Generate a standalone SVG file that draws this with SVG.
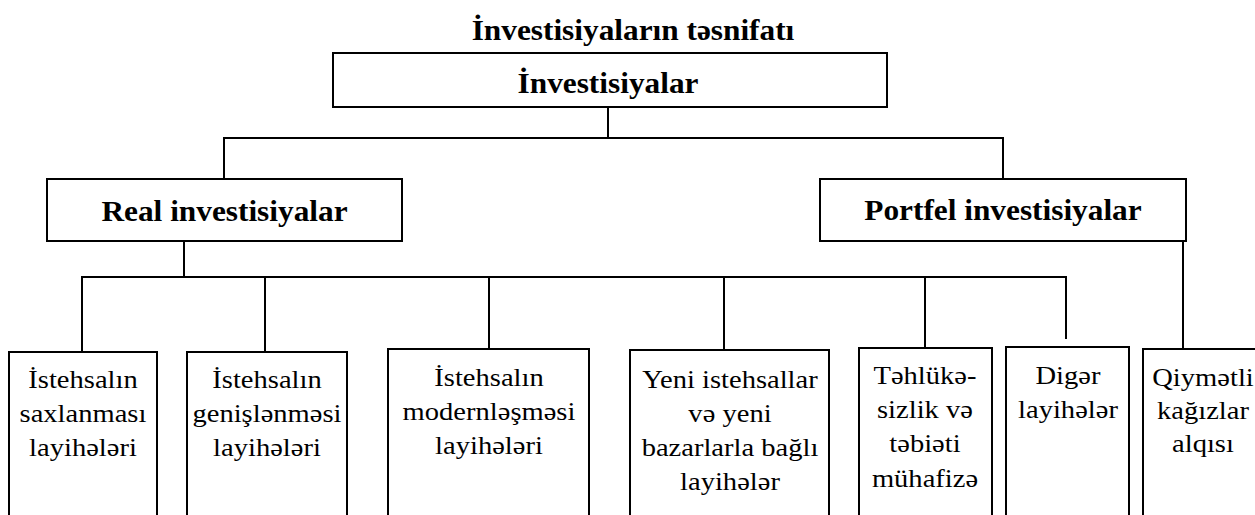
<svg xmlns="http://www.w3.org/2000/svg" width="1255" height="515" viewBox="0 0 1255 515">
<style>
text{font-family:"Liberation Serif","Times New Roman",serif;fill:#000;text-anchor:middle}
.b{font-weight:bold;font-size:29px}
.r{font-size:25.5px}
.box{fill:#fff;stroke:#000;stroke-width:2}
.ln{fill:none;stroke:#000;stroke-width:2}
</style>
<rect width="1255" height="515" fill="#fff"/>
<text class="b" x="633" y="40" transform="matrix(1.08 0 0 1 -50.64 0)">İnvestisiyaların təsnifatı</text>
<g id="connectors">
<path class="ln" d="M608 107V138M224 179V138H1003V179"/>
<path class="ln" d="M184 241V277M82 352V277H1066V339M265 277V352M489 277V349M724 277V350M925 277V348"/>
<path class="ln" d="M1183 241V349"/>
</g>
<g id="n-top"><rect class="box" x="333" y="53" width="554" height="54"/><text class="b" x="608" y="93" transform="matrix(1.08 0 0 1 -48.64 0)">İnvestisiyalar</text></g>
<g id="n-real"><rect class="box" x="47" y="179" width="355" height="62"/><text class="b" x="224.5" y="221" transform="matrix(1.08 0 0 1 -17.96 0)">Real investisiyalar</text></g>
<g id="n-portfel"><rect class="box" x="820" y="179" width="366" height="62"/><text class="b" x="1003" y="220" transform="matrix(1.08 0 0 1 -80.24 0)">Portfel investisiyalar</text></g>
<g id="n-b1"><rect class="box" x="9" y="352" width="148" height="180"/>
<g transform="matrix(1.12 0 0 1 -9.96 0)"><text class="r" x="83" y="388">İstehsalın</text><text class="r" x="83" y="422">saxlanması</text><text class="r" x="83" y="456">layihələri</text></g></g>
<g id="n-b2"><rect class="box" x="187" y="352" width="160" height="180"/>
<g transform="matrix(1.12 0 0 1 -32.04 0)"><text class="r" x="267" y="388">İstehsalın</text><text class="r" x="267" y="422">genişlənməsi</text><text class="r" x="267" y="456">layihələri</text></g></g>
<g id="n-b3"><rect class="box" x="388" y="349" width="201" height="180"/>
<g transform="matrix(1.12 0 0 1 -58.68 0)"><text class="r" x="489" y="386">İstehsalın</text><text class="r" x="489" y="420">modernləşməsi</text><text class="r" x="489" y="454">layihələri</text></g></g>
<g id="n-b4"><rect class="box" x="630" y="350" width="199" height="180"/>
<g transform="matrix(1.12 0 0 1 -87.6 0)"><text class="r" x="730" y="388">Yeni istehsallar</text><text class="r" x="730" y="422">və yeni</text><text class="r" x="730" y="456">bazarlarla bağlı</text><text class="r" x="730" y="490">layihələr</text></g></g>
<g id="n-b5"><rect class="box" x="859" y="348" width="133" height="180"/>
<g transform="matrix(1.12 0 0 1 -111 0)"><text class="r" x="925" y="384">Təhlükə-</text><text class="r" x="925" y="418">sizlik və</text><text class="r" x="925" y="452">təbiəti</text><text class="r" x="925" y="487">mühafizə</text></g></g>
<g id="n-b6"><rect class="box" x="1006" y="347" width="123" height="180"/>
<g transform="matrix(1.12 0 0 1 -128.16 0)"><text class="r" x="1068" y="384">Digər</text><text class="r" x="1068" y="418">layihələr</text></g></g>
<g id="n-b7"><rect class="box" x="1143" y="349" width="130" height="180"/>
<g transform="matrix(1.12 0 0 1 -144.36 0)"><text class="r" x="1203" y="386">Qiymətli</text><text class="r" x="1203" y="419">kağızlar</text><text class="r" x="1203" y="452">alqısı</text></g></g>
</svg>
